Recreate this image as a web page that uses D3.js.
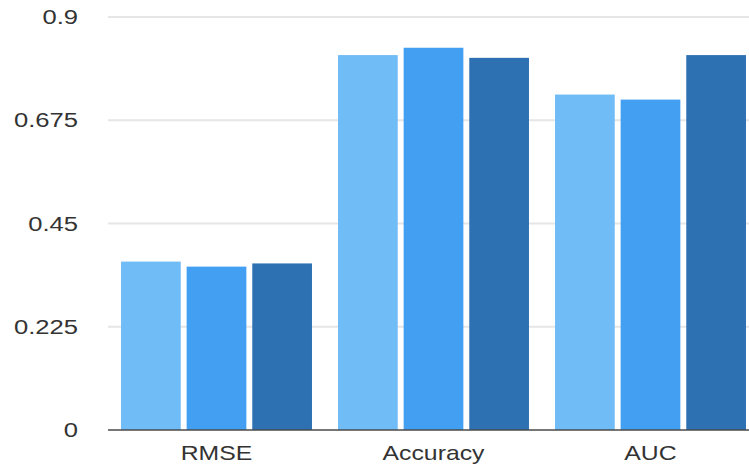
<!DOCTYPE html>
<html>
<head>
<meta charset="utf-8">
<script src="https://cdn.jsdelivr.net/npm/d3@7"></script>
<style>
  html, body { margin: 0; padding: 0; background: #fff; }
  svg { display: block; }
  text { font-family: "Liberation Sans", Arial, Helvetica, sans-serif; fill: #333; }
</style>
</head>
<body>
<svg id="chart" width="749" height="466"></svg>
<script>
// Metrics shown along the x axis
const categories = ["RMSE", "Accuracy", "AUC"];
// Three models per metric
const seriesNames = ["Model A", "Model B", "Model C"];
const seriesA = [0.367, 0.817, 0.731];
const seriesB = [0.356, 0.833, 0.720];
const seriesC = [0.363, 0.811, 0.817];
const yTicks = [0, 0.225, 0.45, 0.675, 0.9];
const colors = ["#70bcf6", "#439ff2", "#2e71b3"];

const svg = d3.select("#chart");
const plotLeft = 108, plotRight = 759, plotTop = 17, plotBottom = 430;

const x0 = d3.scaleBand().domain(categories).range([plotLeft, plotRight])
  .paddingInner(0.12).paddingOuter(0.06);
const x1 = d3.scaleBand().domain(seriesNames).range([0, x0.bandwidth()])
  .paddingInner(0.09);
const y = d3.scaleLinear().domain([0, 0.9]).range([plotBottom, plotTop]);
const color = d3.scaleOrdinal().domain(seriesNames).range(colors);

// Horizontal grid lines
svg.append("g")
  .selectAll("line")
  .data(yTicks.filter(d => d > 0))
  .join("line")
  .attr("x1", plotLeft).attr("x2", 749)
  .attr("y1", d => y(d)).attr("y2", d => y(d))
  .attr("stroke", "#e6e6e6").attr("stroke-width", 2);

// Y axis labels (slightly wide lettering)
const yAxis = d3.axisLeft(y).tickValues(yTicks).tickSize(0).tickPadding(0)
  .tickFormat(d => String(d));
svg.append("g")
  .attr("transform", "translate(78,0)")
  .call(yAxis)
  .call(g => g.select(".domain").remove())
  .call(g => g.selectAll("text")
    .attr("x", 0)
    .attr("transform", "scale(1.22,1)")
    .attr("font-size", 21)
    .attr("font-family", "Liberation Sans, Arial, sans-serif")
    .attr("fill", "#2e2e2e"));

// Bars
const rows = categories.map((c, i) => ({
  cat: c,
  vals: [seriesA[i], seriesB[i], seriesC[i]].map((v, j) => ({ key: seriesNames[j], v }))
}));

svg.append("g")
  .selectAll("g")
  .data(rows)
  .join("g")
  .attr("transform", d => `translate(${x0(d.cat)},0)`)
  .selectAll("rect")
  .data(d => d.vals)
  .join("rect")
  .attr("x", d => x1(d.key))
  .attr("width", x1.bandwidth())
  .attr("y", d => y(d.v))
  .attr("height", d => y(0) - y(d.v))
  .attr("fill", d => color(d.key));

// X axis
const xAxis = d3.axisBottom(x0).tickSize(0).tickPadding(16);
svg.append("g")
  .attr("transform", `translate(0,${plotBottom})`)
  .call(xAxis)
  .call(g => g.select(".domain").attr("d", `M${plotLeft},0H749`)
    .attr("stroke", "#4a4a4a").attr("stroke-width", 1.5))
  .call(g => g.selectAll("text")
    .attr("transform", "scale(1.24,1)")
    .attr("font-size", 20)
    .attr("font-family", "Liberation Sans, Arial, sans-serif")
    .attr("fill", "#2e2e2e"));
</script>
</body>
</html>
